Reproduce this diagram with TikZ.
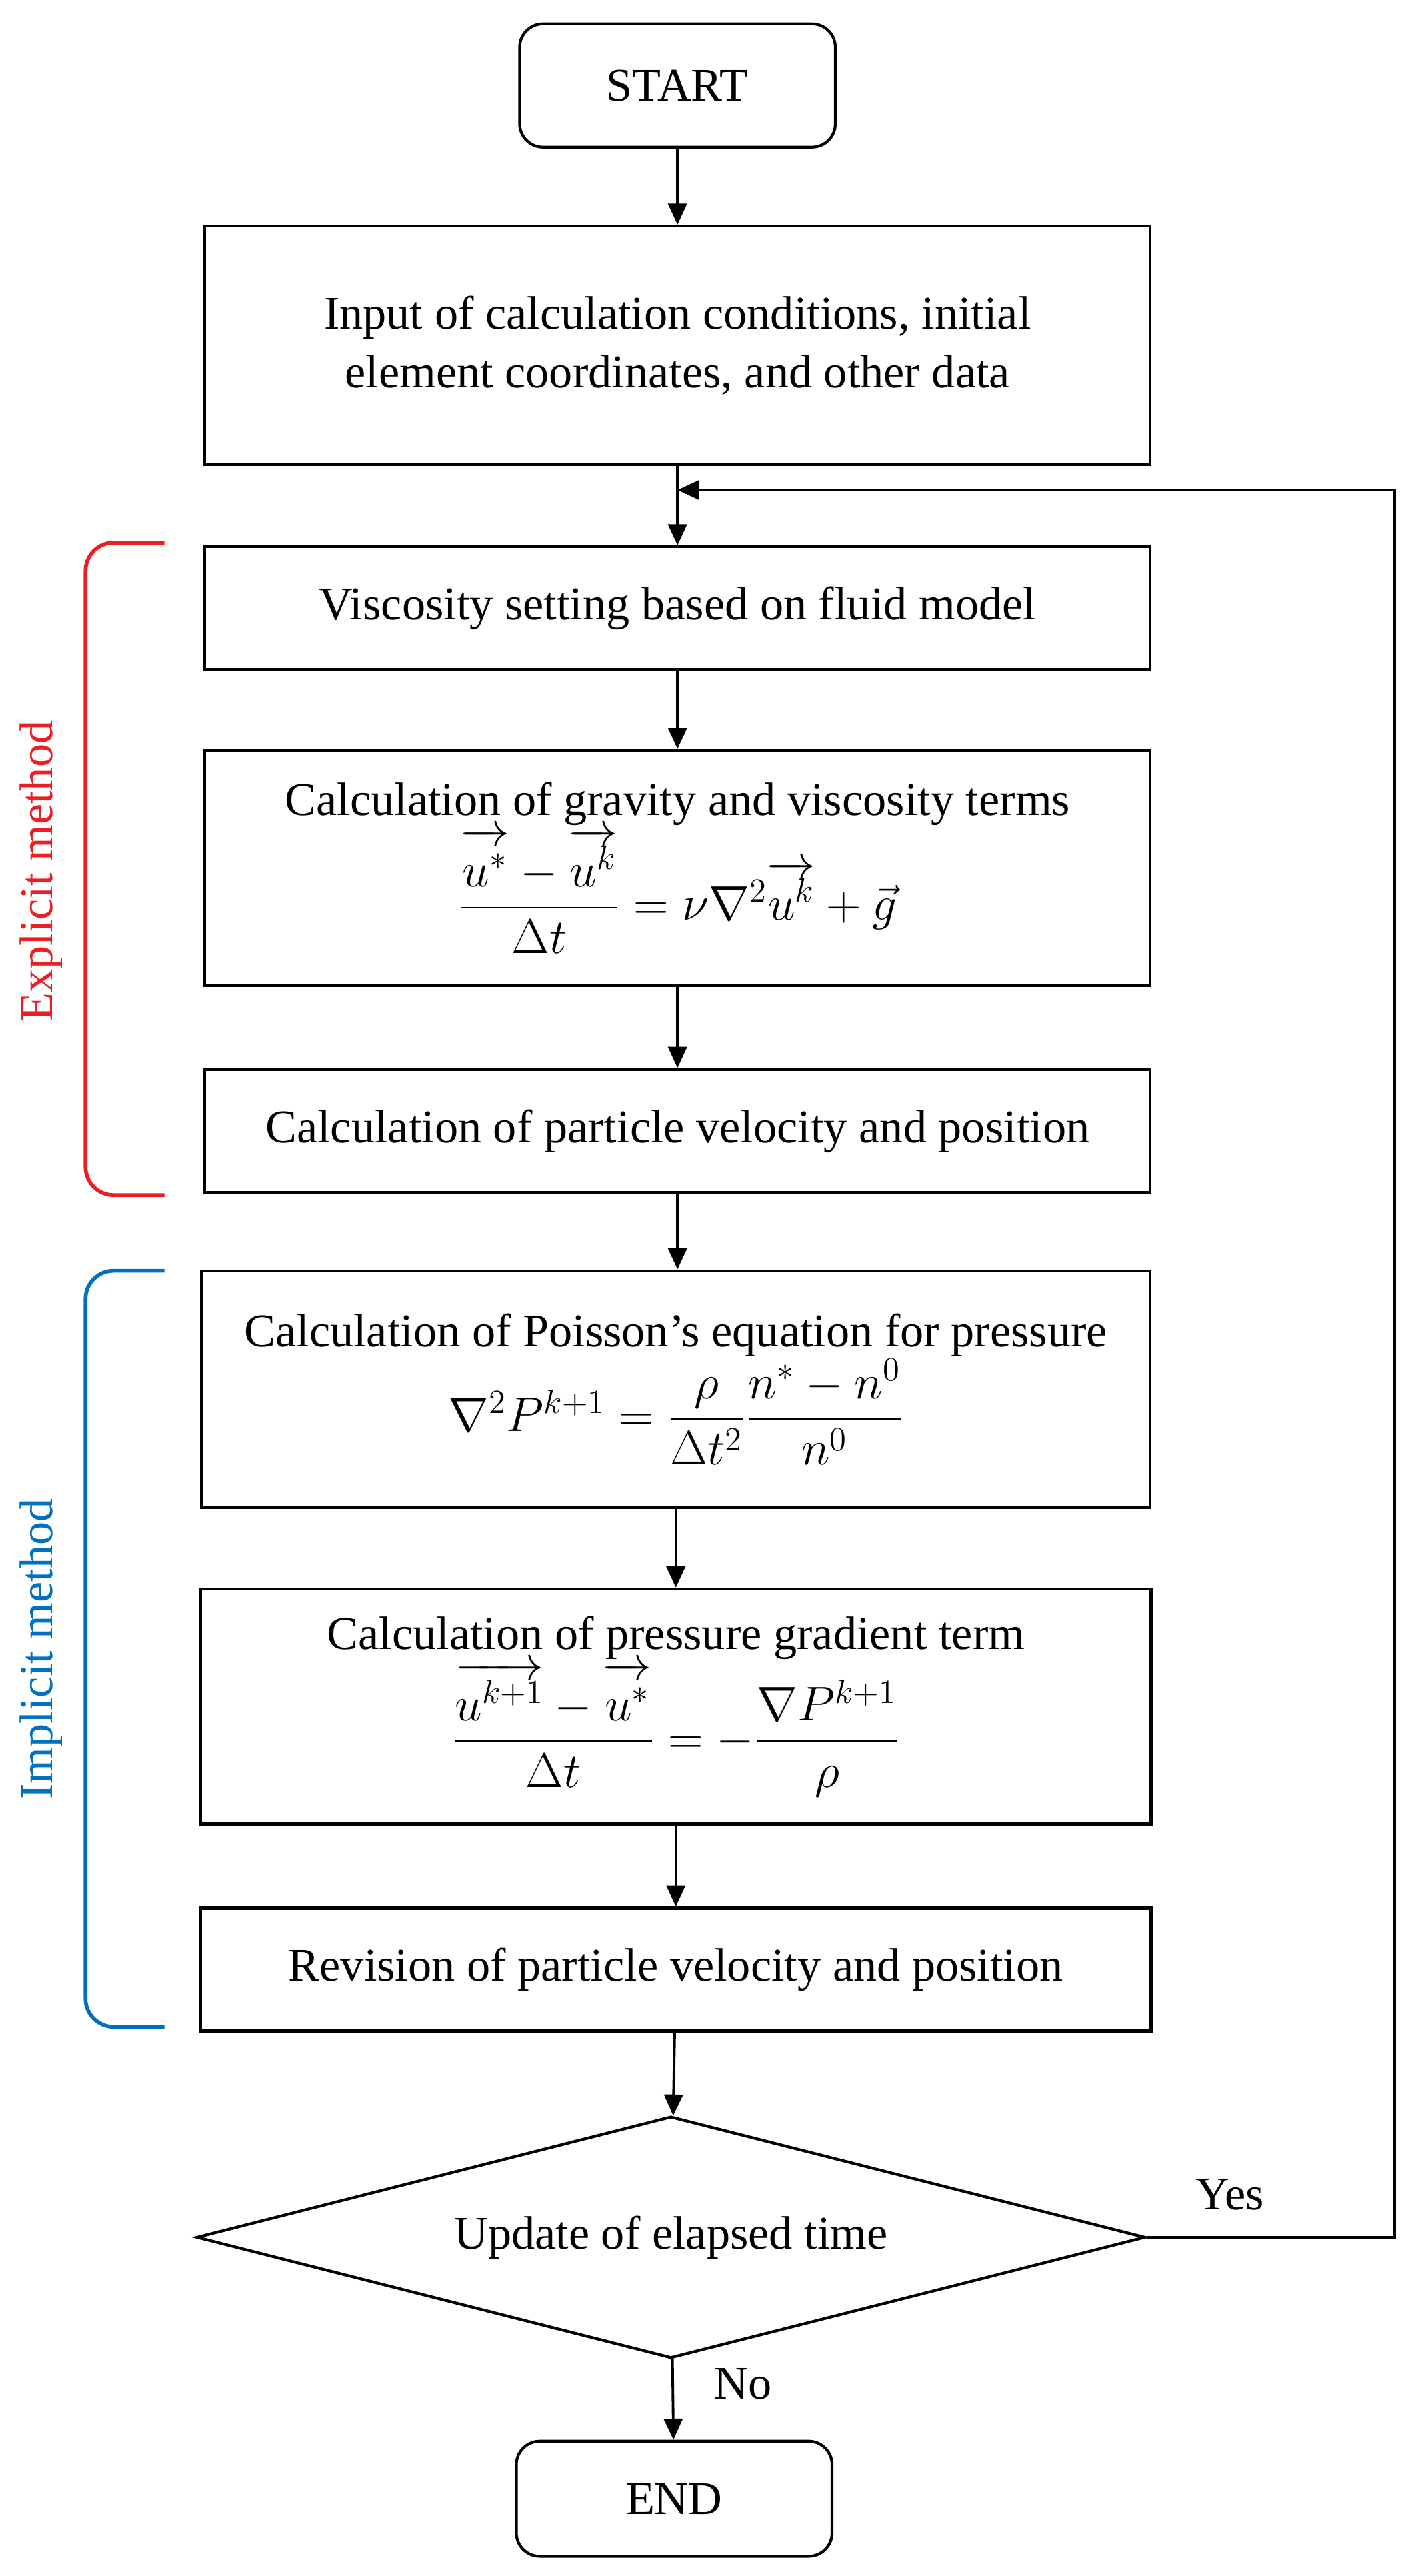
\documentclass[tikz,border=0pt]{standalone}
\usepackage{amsmath}
\usepackage{fontspec}
\setmainfont{Liberation Serif}
\usetikzlibrary{shapes.geometric,arrows.meta}
\definecolor{redb}{RGB}{235,30,35}
\definecolor{blueb}{RGB}{0,112,192}
\newcommand{\ova}[1]{\overrightarrow{\vphantom{T^{k}}#1}}
\begin{document}
\begin{tikzpicture}[x=0.02466cm,y=-0.02466cm,
  ar/.style={-{Triangle[length=9pt,width=8pt]},line width=1.1pt},
  every node/.style={font=\fontsize{20}{25}\selectfont}]
\useasboundingbox (0,0) rectangle (862,1567);
\tikzset{b/.style={draw,line width=1.2pt,align=center,inner sep=0pt},
  mf/.style={}}
\node[b,rounded corners=10pt,minimum width=192*0.02466cm,minimum height=75*0.02466cm] (start) at (412,52) {START};
\node[b,minimum width=575*0.02466cm,minimum height=145*0.02466cm] (inp) at (412,210) {Input of calculation conditions, initial\\element coordinates, and other data};
\node[b,minimum width=575*0.02466cm,minimum height=75*0.02466cm] (vis) at (412,370) {Viscosity setting based on fluid model};
\node[b,minimum width=575*0.02466cm,minimum height=143*0.02466cm] (grav) at (412,528) {Calculation of gravity and viscosity terms\\[0pt] \fontsize{21}{25}\selectfont$\dfrac{\ova{u^*}-\ova{u^k}}{\Delta t}=\nu\nabla^2\ova{u^k}+\vec{g}$};
\node[b,minimum width=575*0.02466cm,minimum height=75*0.02466cm] (vel) at (412,688) {Calculation of particle velocity and position};
\node[b,minimum width=577*0.02466cm,minimum height=144*0.02466cm] (poi) at (411,845) {Calculation of Poisson's equation for pressure\\[0pt] \fontsize{21}{25}\selectfont$\nabla^2P^{k+1}=\dfrac{\rho}{\Delta t^2}\dfrac{n^*-n^0}{n^0}$};
\node[b,minimum width=578*0.02466cm,minimum height=143*0.02466cm] (pg) at (411,1038) {Calculation of pressure gradient term\\[0pt] \fontsize{21}{25}\selectfont$\dfrac{\ova{u^{k+1}}-\ova{u^*}}{\Delta t}=-\dfrac{\nabla P^{k+1}}{\rho}$};
\node[b,minimum width=578*0.02466cm,minimum height=75*0.02466cm] (rev) at (411,1198) {Revision of particle velocity and position};
\node[b,diamond,aspect=3.93,minimum width=577*0.02466cm,minimum height=147*0.02466cm] (dia) at (408,1361) {Update of elapsed time};
\node[b,rounded corners=10pt,minimum width=192*0.02466cm,minimum height=70*0.02466cm] (end) at (410,1520) {END};
\coordinate (j) at (412,298);
\coordinate (c1) at (848,1361);
\coordinate (c2) at (848,298);
\draw[ar] (start) -- (inp);
\draw[line width=1.1pt] (inp.south) -- (j);
\draw[ar] (j) -- (vis);
\draw[ar] (vis) -- (grav);
\draw[ar] (grav) -- (vel);
\draw[ar] (vel.south) -- (poi.north-|vel.south);
\draw[ar] (poi) -- (pg);
\draw[ar] (pg) -- (rev);
\draw[ar] (rev) -- (dia);
\draw[ar] (dia) -- (end);
\draw[ar] (dia.east) -- (c1) -- (c2) -- (j);
\node at (748,1335) {Yes};
\node at (452,1450) {No};
\draw[redb,line width=1.6pt,rounded corners=12pt] (100,330) -- (52,330) -- (52,727) -- (100,727);
\draw[blueb,line width=1.6pt,rounded corners=12pt] (100,773) -- (52,773) -- (52,1233) -- (100,1233);
\node[redb,rotate=90] at (25,530) {Explicit method};
\node[blueb,rotate=90] at (25,1003) {Implicit method};
\end{tikzpicture}
\end{document}
